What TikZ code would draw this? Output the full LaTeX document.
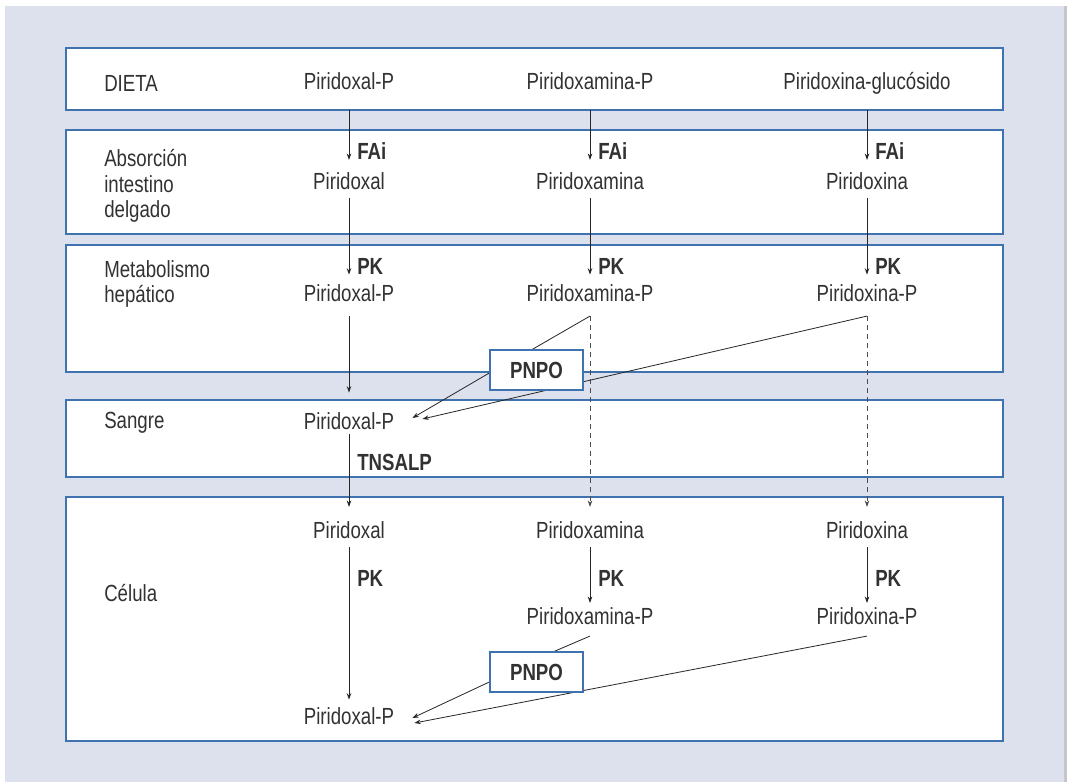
\documentclass[tikz,border=0pt]{standalone}
\usepackage{fontspec}
\setmainfont{Liberation Sans}[FakeStretch=0.8]
\usetikzlibrary{arrows.meta, calc}
\definecolor{bandblue}{RGB}{63,115,176}
\definecolor{panel}{RGB}{221,225,238}
\definecolor{txt}{RGB}{50,50,50}
\pgfdeclarelayer{back}
\pgfdeclarelayer{links}
\pgfsetlayers{back,links,main}

\begin{document}
\begin{tikzpicture}[
    x=0.75pt, y=-0.75pt,
    every node/.style={font=\fontsize{17.5}{19}\selectfont, text=txt},
    comp/.style={inner sep=0pt, text height=12.6pt, text depth=3.6pt},
    row/.style={inner sep=0pt, anchor=west, align=left},
    enz/.style={inner sep=0pt, anchor=west, font=\fontsize{17.5}{19}\selectfont\bfseries},
    band/.style={draw=bandblue, line width=1.1pt, fill=white},
    pnpo/.style={rectangle, draw=bandblue, line width=1.1pt, fill=white, minimum width=69.75pt, minimum height=30pt, font=\fontsize{17.5}{19}\selectfont\bfseries},
    arrow/.style={-{Stealth[length=4.8pt, width=3.4pt]}, line width=0.6pt, black!85},
    link/.style={line width=0.6pt, black!85},
    indirect/.style={-{Stealth[length=4.8pt, width=3.4pt]}, line width=0.6pt, black!70, dash pattern=on 3.75pt off 3pt},
]
\useasboundingbox (0,0) rectangle (1067,782);

% Panel and bands
\begin{pgfonlayer}{back}
\fill[panel] (5,6) rectangle (1064,782);
\fill[black!22] (1064,6) rectangle (1067,782);
\draw[band] (66,48) rectangle (1003,110);
\draw[band] (66,130) rectangle (1003,234);
\draw[band] (66,245) rectangle (1003,372);
\draw[band] (66,400) rectangle (1003,477);
\draw[band] (66,497) rectangle (1003,741);
\end{pgfonlayer}

% Dieta
\node[row] (dieta) at (104,83) {DIETA};
\node[comp] (pal1) at (349,83) {Piridoxal-P};
\node[comp] (pam1) at (590,83) {Piridoxamina-P};
\node[comp] (pin1) at (867,83) {Piridoxina-glucósido};
% Absorcion
\node[row] (absorcion) at (104,186) {Absorción\\intestino\\delgado};
\node[comp] (pal2) at (349,183) {Piridoxal};
\node[comp] (pam2) at (590,183) {Piridoxamina};
\node[comp] (pin2) at (867,183) {Piridoxina};
% Metabolismo
\node[row] (metabolismo) at (104,284) {Metabolismo\\hepático};
\node[comp] (pal3) at (349,295) {Piridoxal-P};
\node[comp] (pam3) at (590,295) {Piridoxamina-P};
\node[comp] (pin3) at (867,295) {Piridoxina-P};
% Sangre
\node[row] (sangre) at (104,423) {Sangre};
\node[comp] (pal4) at (349,423) {Piridoxal-P};
% Celula
\node[row] (celula) at (104,593) {Célula};
\node[comp] (pal5) at (349,532) {Piridoxal};
\node[comp] (pam5) at (590,532) {Piridoxamina};
\node[comp] (pin5) at (867,532) {Piridoxina};
\node[comp] (pal6) at (349,718) {Piridoxal-P};
\node[comp] (pam6) at (590,618) {Piridoxamina-P};
\node[comp] (pin6) at (867,618) {Piridoxina-P};

% PNPO
\node[pnpo] (pnpo1) at (536.5,370) {PNPO};
\node[pnpo] (pnpo2) at (536.5,672) {PNPO};

\coordinate (pam3d) at ($(pam3.south)+(0,10)$);
\coordinate (pin3d) at ($(pin3.south)+(0,10)$);
\coordinate (pam6d) at ($(pam6.south)+(0,7)$);
\coordinate (pin6d) at ($(pin6.south)+(0,7)$);

\begin{pgfonlayer}{links}
\foreach \n in {pal,pam,pin} {
    \draw[arrow, shorten <=12pt, shorten >=9pt] (\n1) -- (\n2);
    \node[enz] (fai-\n) at ($(\n2.north)+(8,-21)$) {FAi};
    \draw[arrow, shorten <=3pt, shorten >=7pt] (\n2) -- (\n3);
    \node[enz] (pk-\n) at ($(\n3.north)+(8,-17)$) {PK};
    \node[enz] (pkc-\n) at ($(\n5.south)+(8,35)$) {PK};
}
\draw[arrow, shorten <=7.5pt, shorten >=14.5pt] (pal3) -- (pal4);
\draw[arrow, shorten >=10.5pt] (pal4) -- (pal5);
\node[enz] (tnsalp) at ($(pal4.south)+(8,28)$) {TNSALP};
\draw[arrow, shorten <=3pt, shorten >=5.5pt] (pal5) -- (pal6);
\foreach \n in {pam,pin} {
    \draw[indirect, shorten >=10.5pt] (\n3d) -- (\n5);
    \draw[arrow, shorten <=3pt, shorten >=3pt] (\n5) -- (\n6);
}
% PNPO links
\draw[link] (pam3d) -- ($(pnpo1.north)+(-4,0)$);
\draw[arrow] ($(pnpo1.west)+(0,3)$) -- ($(pal4.east)+(18,-5)$);
\draw[arrow] (pin3d) -- ($(pal4.east)+(28,-4)$);
\draw[link] (pam6d) -- ($(pnpo2.north)+(18,0)$);
\draw[arrow] ($(pnpo2.west)+(0,10)$) -- ($(pal6.east)+(18,0)$);
\draw[arrow] (pin6d) -- ($(pal6.east)+(20,5)$);
\end{pgfonlayer}
\end{tikzpicture}
\end{document}
